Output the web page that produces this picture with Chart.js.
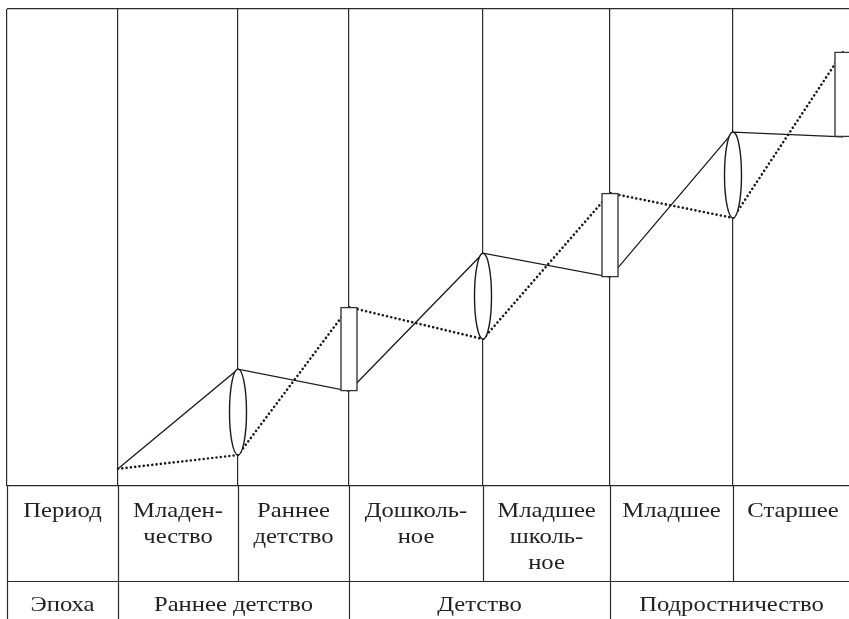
<!DOCTYPE html>
<html lang="ru">
<head>
<meta charset="utf-8">
<title>Периодизация психического развития</title>
<script src="https://cdn.jsdelivr.net/npm/chart.js@4/dist/chart.umd.min.js"></script>
<style>
  html, body { margin: 0; padding: 0; background: #fff; overflow: hidden; }
  #wrap { position: absolute; left: 0; top: 0; width: 860px; height: 619px; }
</style>
</head>
<body>
<div id="wrap"><canvas id="chart"></canvas></div>
<script>
// column boundaries along the age axis (last one lies past the right edge)
const bounds = [0, 111, 231, 342, 476, 603, 726, 846];

// table texts
const periods = [
  ['Период'], ['Младен-', 'чество'], ['Раннее', 'детство'], ['Дошколь-', 'ное'],
  ['Младшее', 'школь-', 'ное'], ['Младшее'], ['Старшее']
];
const epochs = ['Эпоха', 'Раннее детство', 'Детство', 'Подростничество'];
const epochSpans = [[0, 1], [1, 3], [3, 5], [5, 7]]; // indices into bounds

// transition marks
const startPoint = { x: 111, y: 3.6 };
const ellipseX = [231, 476, 726];
const ellipseTop = [24.5, 48.8, 74.2];
const ellipseBottom = [6.5, 30.8, 56.2];
const rectX = [342, 603, 836];
const rectTop = [37.5, 61.4, 91.0];
const rectBottom = [19.9, 43.8, 73.2];

const solid = [startPoint];
const dotted = [startPoint];
for (let i = 0; i < ellipseX.length; i++) {
  solid.push({ x: ellipseX[i], y: ellipseTop[i] }, { x: rectX[i], y: rectBottom[i] });
  dotted.push({ x: ellipseX[i], y: ellipseBottom[i] }, { x: rectX[i], y: rectTop[i] });
}

const LINE = '#2a2a2a';
const FONT = '22px "Liberation Serif", "Times New Roman", serif';

// ellipses drawn over the lines, white inside
const ellipsePlugin = {
  id: 'ellipses',
  afterDatasetsDraw(chart) {
    const { ctx, scales: { x, y } } = chart;
    ctx.save();
    ctx.lineWidth = 1.4;
    ctx.strokeStyle = '#1a1a1a';
    ctx.fillStyle = '#fff';
    ellipseX.forEach((v, i) => {
      const cx = x.getPixelForValue(v);
      const t = y.getPixelForValue(ellipseTop[i]);
      const b = y.getPixelForValue(ellipseBottom[i]);
      ctx.beginPath();
      ctx.ellipse(cx, (t + b) / 2, 8.5, (b - t) / 2, 0, 0, Math.PI * 2);
      ctx.fill();
      ctx.stroke();
    });
    ctx.restore();
  }
};

// table under the chart: periods and epochs
const tablePlugin = {
  id: 'table',
  afterDraw(chart) {
    const { ctx, chartArea, scales: { x } } = chart;
    const top = chartArea.bottom;
    const sep = top + 95;
    const end = chart.height;
    const px = bounds.map(v => x.getPixelForValue(v));
    const epochEdges = epochSpans.map(s => s[0]).concat([7]);

    ctx.save();
    ctx.strokeStyle = LINE;
    ctx.lineWidth = 1.2;
    ctx.beginPath();
    ctx.moveTo(chartArea.left, Math.round(sep) + 0.5);
    ctx.lineTo(chart.width, Math.round(sep) + 0.5);
    for (let i = 0; i < 7; i++) {
      const xx = Math.round(px[i]) + 0.5;
      ctx.moveTo(xx, top);
      ctx.lineTo(xx, epochEdges.includes(i) ? end : sep);
    }
    ctx.stroke();

    ctx.fillStyle = '#222';
    ctx.font = FONT;
    ctx.textAlign = 'center';
    ctx.textBaseline = 'alphabetic';
    const text = (s, cx, by) => {
      ctx.save();
      ctx.translate(cx, by);
      ctx.scale(1.12, 1);
      ctx.fillText(s, 0, 0);
      ctx.restore();
    };
    periods.forEach((lines, i) => {
      const cx = (px[i] + px[i + 1]) / 2;
      lines.forEach((s, k) => text(s, cx, top + 31 + k * 26));
    });
    epochs.forEach((s, i) => {
      const cx = (px[epochSpans[i][0]] + px[epochSpans[i][1]]) / 2;
      text(s, cx, sep + 30);
    });
    ctx.restore();
  }
};

new Chart(document.getElementById('chart'), {
  type: 'line',
  data: {
    datasets: [
      {
        type: 'bar',
        data: rectX.map((v, i) => ({ x: v, y: [rectBottom[i], rectTop[i]] })),
        backgroundColor: '#fff',
        borderColor: '#333',
        borderWidth: 1.5,
        borderSkipped: false,
        barThickness: 17,
        order: 0
      },
      {
        data: solid,
        borderColor: '#1a1a1a',
        borderWidth: 1.3,
        pointRadius: 0,
        tension: 0,
        order: 2
      },
      {
        data: dotted,
        borderColor: '#1a1a1a',
        borderWidth: 2.6,
        borderDash: [0.01, 4.3],
        borderCapStyle: 'round',
        pointRadius: 0,
        tension: 0,
        order: 1
      }
    ]
  },
  options: {
    responsive: true,
    maintainAspectRatio: false,
    animation: false,
    layout: { padding: { left: 7, top: 9, right: 7, bottom: 133 } },
    plugins: { legend: { display: false }, tooltip: { enabled: false } },
    scales: {
      x: {
        type: 'linear',
        min: 0,
        max: 846,
        offset: false,
        afterBuildTicks: s => { s.ticks = bounds.slice(0, 7).map(v => ({ value: v })); },
        ticks: { display: false },
        grid: { color: LINE, lineWidth: 1.2, drawTicks: false, offset: false },
        border: { display: false }
      },
      y: {
        min: 0,
        max: 100,
        afterBuildTicks: s => { s.ticks = [0, 100].map(v => ({ value: v })); },
        ticks: { display: false },
        grid: { color: LINE, lineWidth: 1.2, drawTicks: false, offset: false },
        border: { display: false }
      }
    }
  },
  plugins: [ellipsePlugin, tablePlugin]
});
</script>
</body>
</html>
